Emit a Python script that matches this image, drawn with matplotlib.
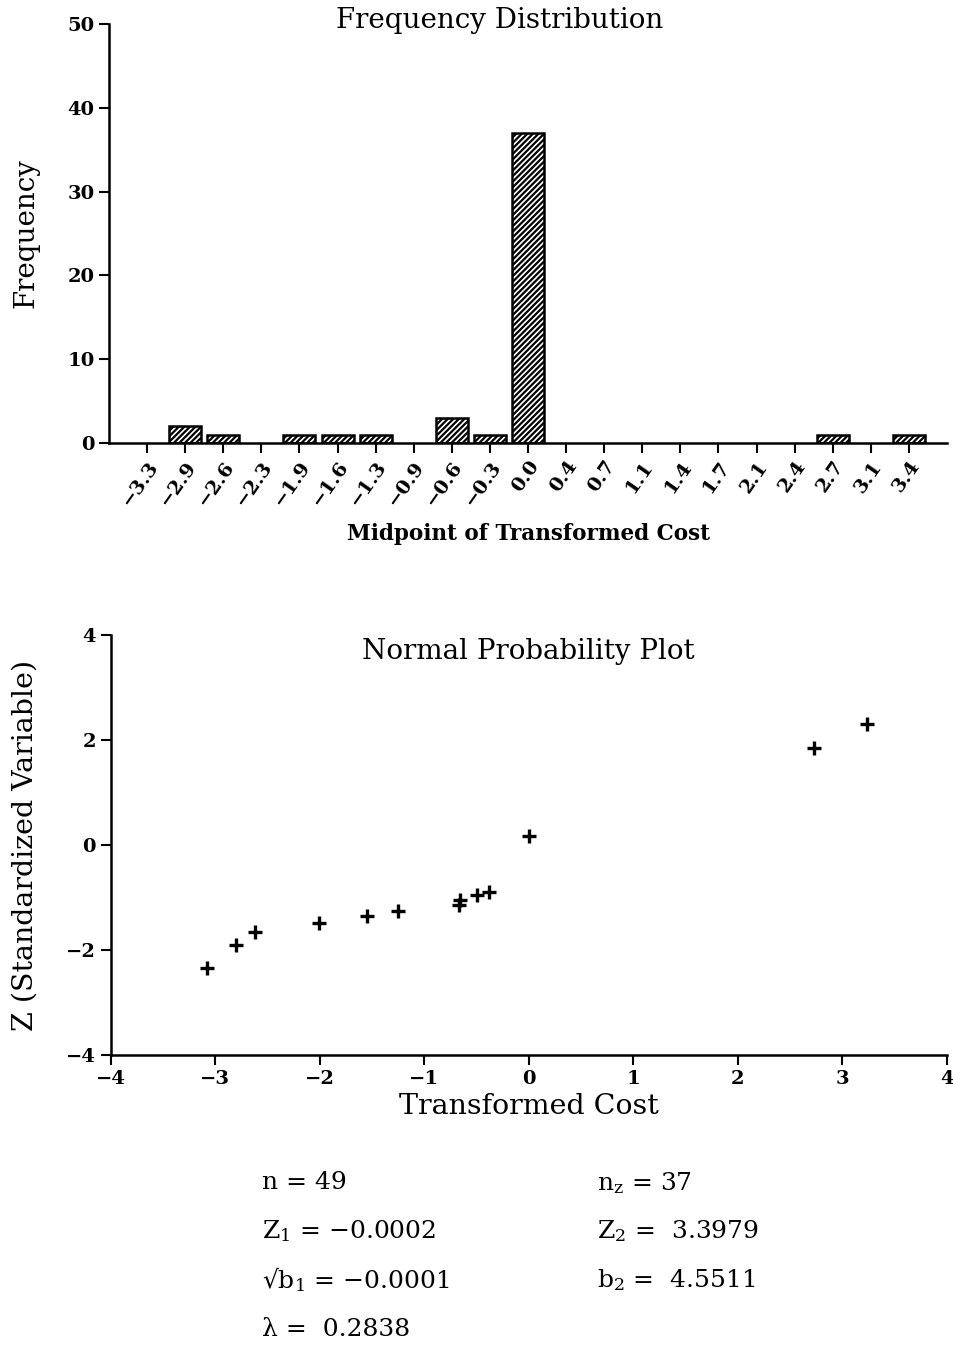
import matplotlib
matplotlib.use("Agg")
import matplotlib.pyplot as plt

plt.rcParams['font.family'] = ['DejaVu Serif']
plt.rcParams['mathtext.default'] = 'regular'
plt.rcParams['hatch.linewidth'] = 1.6
plt.rcParams['axes.unicode_minus'] = True

# histogram data
midpoints = ["-3.3", "-2.9", "-2.6", "-2.3", "-1.9", "-1.6", "-1.3", "-0.9", "-0.6", "-0.3",
             "0.0", "0.4", "0.7", "1.1", "1.4", "1.7", "2.1", "2.4", "2.7", "3.1", "3.4"]
frequency = [0, 2, 1, 0, 1, 1, 1, 0, 3, 1, 37, 0, 0, 0, 0, 0, 0, 0, 1, 0, 1]

# normal probability plot data
cost = [-3.08, -2.80, -2.62, -2.01, -1.55, -1.25, -0.67, -0.66, -0.49, -0.38, 0.0, 2.73, 3.24]
zval = [-2.35, -1.90, -1.66, -1.48, -1.36, -1.25, -1.15, -1.04, -0.96, -0.90, 0.17, 1.85, 2.30]

stats_left = ["n = 49", "Z$_1$ = \u22120.0002", "\u221ab$_1$ = \u22120.0001", "\u03bb =  0.2838"]
stats_right = ["n$_z$ = 37", "Z$_2$ =  3.3979", "b$_2$ =  4.5511"]

fig = plt.figure(figsize=(9.54, 13.47), dpi=100)

# --- frequency distribution ---
ax1 = fig.add_axes([0.1143, 0.6711, 0.8784, 0.3111])
pos = list(range(len(midpoints)))
nz = [i for i in pos if frequency[i] > 0]
ax1.bar(nz, [frequency[i] for i in nz], width=0.84, color='white', edgecolor='black',
        linewidth=1.8, hatch='//////')
ax1.set_xlim(-1, 21)
ax1.set_ylim(0, 50)
ax1.set_yticks([0, 10, 20, 30, 40, 50])
ax1.set_xticks(pos)
ax1.set_xticklabels([m.replace("-", "\u2212") for m in midpoints], rotation=55,
                    ha='right', va='top', rotation_mode='anchor',
                    fontsize=14, fontweight='bold')
for lab in ax1.get_yticklabels():
    lab.set_fontsize(14)
    lab.set_fontweight('bold')
ax1.spines['top'].set_visible(False)
ax1.spines['right'].set_visible(False)
ax1.spines['left'].set_linewidth(1.8)
ax1.spines['bottom'].set_linewidth(1.8)
ax1.tick_params(axis='both', direction='out', length=7, width=1.5)
ax1.set_ylabel("Frequency", fontsize=20, labelpad=20)
ax1.set_xlabel("Midpoint of Transformed Cost", fontsize=15.5, fontweight='bold', labelpad=10)
fig.text(0.524, 0.985, "Frequency Distribution", fontsize=20, ha='center', va='center')

# --- normal probability plot ---
ax2 = fig.add_axes([0.116, 0.2168, 0.8764, 0.3118])
ax2.plot(cost, zval, linestyle='none', marker='+', markersize=10,
         markeredgewidth=2.4, color='black')
ax2.set_xlim(-4, 4)
ax2.set_ylim(-4, 4)
ax2.set_xticks(range(-4, 5))
ax2.set_yticks([-4, -2, 0, 2, 4])
for lab in ax2.get_xticklabels() + ax2.get_yticklabels():
    lab.set_fontsize(14)
    lab.set_fontweight('bold')
ax2.spines['top'].set_visible(False)
ax2.spines['right'].set_visible(False)
ax2.spines['left'].set_linewidth(1.8)
ax2.spines['bottom'].set_linewidth(1.8)
ax2.tick_params(axis='both', direction='out', length=7, width=1.5)
ax2.set_xlabel("Transformed Cost", fontsize=20.5, labelpad=4)
ax2.set_ylabel("Z (Standardized Variable)", fontsize=20.5, labelpad=20)
ax2.text(0.5, 0.96, "Normal Probability Plot", transform=ax2.transAxes,
         fontsize=20, ha='center', va='center')

# --- statistics ---
row_y = [0.122, 0.086, 0.050, 0.013]
for s, y in zip(stats_left, row_y):
    fig.text(0.275, y, s, fontsize=18, ha='left', va='center')
for s, y in zip(stats_right, row_y):
    fig.text(0.626, y, s, fontsize=18, ha='left', va='center')

fig.savefig("out.png", dpi=100)
